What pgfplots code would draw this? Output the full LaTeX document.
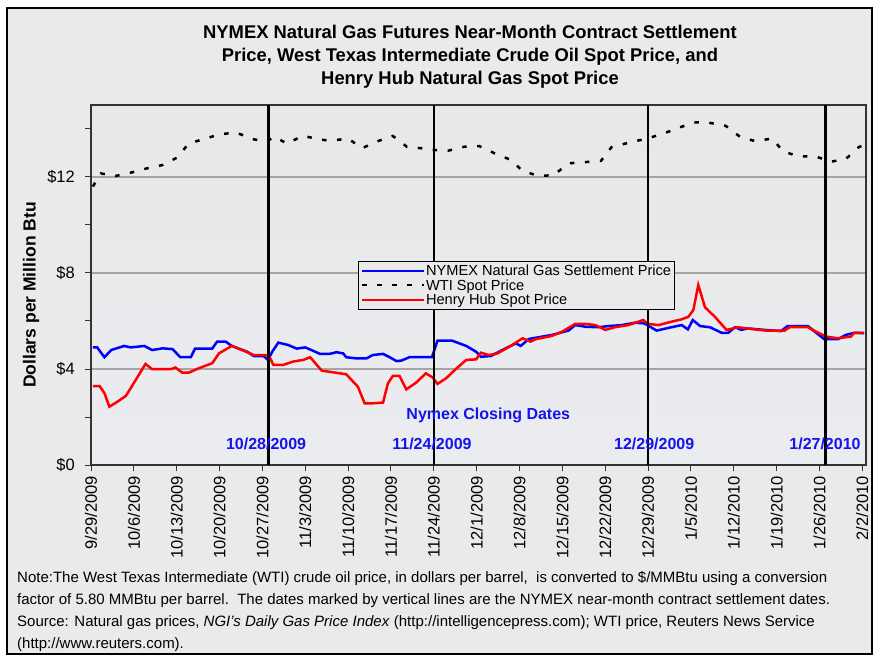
\documentclass[border=0pt]{standalone}
\usepackage{pgfplots}
\pgfplotsset{compat=1.18}
\usepackage{fontspec}
\setmainfont{Liberation Sans}
\definecolor{bgc}{RGB}{234,234,234}
\definecolor{plottop}{RGB}{232,232,232}
\definecolor{plotmid}{RGB}{211,221,232}
\definecolor{plotbot}{RGB}{234,236,240}
\definecolor{gridc}{RGB}{165,165,165}
\definecolor{nblue}{RGB}{0,0,255}
\definecolor{hred}{RGB}{255,0,0}
\definecolor{lblue}{RGB}{20,20,235}
\begin{document}
\begin{tikzpicture}[x=1pt,y=1pt]
\useasboundingbox (0,0) rectangle (874,656);
\draw[fill=bgc, line width=1.5pt] (7,2) rectangle (872,648);
\node[font=\fontsize{18.4}{23}\selectfont\bfseries, align=center] at (470,599)
  {NYMEX Natural Gas Futures Near-Month Contract Settlement\\
   Price, West Texas Intermediate Crude Oil Spot Price, and\\
   Henry Hub Natural Gas Spot Price};
\begin{axis}[
  at={(91pt,191pt)}, anchor=south west,
  scale only axis, width=775pt, height=360pt,
  xmin=0, xmax=126.6, ymin=0, ymax=15,
  axis background/.style={top color=plottop, middle color=plotmid, bottom color=plotbot},
  xtick={0,7,...,126},
  xticklabels={9/29/2009,10/6/2009,10/13/2009,10/20/2009,10/27/2009,11/3/2009,11/10/2009,11/17/2009,11/24/2009,12/1/2009,12/8/2009,12/15/2009,12/22/2009,12/29/2009,1/5/2010,1/12/2010,1/19/2010,1/26/2010,2/2/2010},
  x tick label style={rotate=90, anchor=east, font=\fontsize{16.5}{18}\selectfont, inner sep=5pt},
  ytick={0,4,8,12}, yticklabels={\$0,\$4,\$8,\$12},
  minor ytick={2,6,10,14},
  y tick label style={font=\fontsize{16.5}{18}\selectfont, inner sep=2pt, xshift=-8pt},
  tick align=outside, major tick length=6pt, minor tick length=6pt,
  xtick pos=bottom, ytick pos=left,
  tick style={black!80, line width=1pt},
  ymajorgrids, grid style={gridc, line width=1.3pt},
  axis line style={black!80, line width=1.3pt},
  legend style={at={(0.345,0.566)}, anchor=north west, draw=black, line width=0.8pt,
    fill=bgc, font=\fontsize{14.6}{15}\selectfont, inner sep=2.5pt, row sep=0.8pt,
    nodes={inner sep=0.8pt}},
  legend cell align=left,
  legend image code/.code={\draw[#1, line width=2pt] (0pt,0pt) -- (62pt,0pt);},
]
\addplot[nblue, line width=2.5pt] coordinates {
(0.3,4.90) (1.0,4.90) (2.2,4.49) (3.3,4.79) (5.4,4.96) (6.5,4.90) (8.7,4.96) (10.0,4.79) (11.7,4.86) (13.3,4.83) (14.6,4.49) (16.3,4.49) (17.0,4.85) (19.8,4.85) (20.6,5.14) (22.0,5.14) (23.0,4.96) (25.5,4.72) (26.6,4.54) (28.2,4.54) (28.9,4.38) (29.7,4.76) (30.6,5.10) (32.2,5.00) (33.6,4.85) (35.0,4.90) (36.0,4.79) (37.4,4.63) (39.0,4.63) (40.1,4.70) (41.2,4.65) (41.7,4.49) (43.4,4.44) (45.0,4.44) (46.0,4.58) (47.7,4.63) (48.8,4.49) (49.9,4.33) (50.7,4.35) (52.0,4.49) (55.7,4.49) (56.6,5.18) (59.0,5.18) (61.3,4.96) (62.9,4.72) (63.7,4.51) (65.3,4.54) (67.2,4.79) (69.4,5.07) (70.2,4.96) (71.5,5.25) (75.3,5.42) (78.0,5.60) (79.1,5.83) (80.8,5.76) (82.9,5.74) (84.6,5.79) (86.7,5.83) (88.9,5.93) (90.4,5.90) (92.4,5.60) (94.8,5.74) (96.5,5.83) (97.5,5.65) (98.3,6.04) (99.5,5.79) (101.1,5.74) (103.0,5.51) (104.1,5.51) (105.2,5.74) (106.2,5.63) (107.3,5.69) (110.0,5.63) (112.7,5.58) (113.8,5.79) (117.1,5.79) (118.7,5.46) (119.8,5.24) (122.0,5.24) (123.3,5.42) (124.7,5.51) (126.3,5.49)
};
\addlegendentry{NYMEX Natural Gas Settlement Price}
\addplot[black, line width=2.5pt, dash pattern=on 4.5pt off 10.5pt] coordinates {
(0.3,11.6) (1.6,12.15) (4.0,12.04) (6.8,12.2) (9.0,12.35) (11.7,12.5) (14.0,12.8) (16.0,13.4) (18.7,13.6) (21.0,13.78) (23.7,13.85) (26.6,13.57) (28.6,13.47) (30.0,13.68) (32.0,13.39) (34.6,13.72) (37.0,13.58) (39.0,13.51) (42.0,13.6) (44.3,13.2) (46.6,13.47) (49.3,13.71) (51.6,13.26) (54.2,13.19) (56.0,13.12) (58.4,13.1) (61.0,13.26) (63.4,13.29) (65.9,12.99) (68.6,12.71) (70.5,12.25) (73.2,12.04) (75.6,12.08) (78.0,12.57) (80.7,12.62) (83.3,12.67) (85.0,13.24) (88.0,13.44) (90.8,13.6) (93.4,13.8) (95.8,14.03) (98.5,14.28) (101.0,14.26) (103.7,14.13) (106.0,13.68) (108.4,13.5) (111.3,13.6) (113.0,13.08) (115.5,12.86) (118.4,12.85) (120.9,12.64) (123.3,12.75) (125.5,13.26) (126.3,13.3)
};
\addlegendentry{WTI Spot Price}
\addplot[hred, line width=2.5pt] coordinates {
(0.3,3.29) (1.4,3.29) (2.2,2.99) (3.0,2.43) (4.1,2.60) (5.7,2.88) (7.3,3.54) (8.9,4.21) (10.0,3.99) (13.0,3.99) (13.8,4.06) (14.9,3.85) (16.0,3.85) (17.6,4.03) (19.8,4.24) (20.9,4.65) (23.0,4.96) (24.7,4.79) (26.6,4.58) (29.0,4.58) (29.8,4.17) (31.4,4.17) (33.0,4.31) (34.7,4.38) (35.8,4.49) (37.7,3.93) (39.6,3.86) (41.7,3.78) (43.6,3.26) (44.7,2.57) (46.0,2.57) (47.7,2.60) (48.5,3.40) (49.3,3.71) (50.4,3.71) (51.5,3.15) (53.1,3.43) (54.7,3.82) (55.8,3.65) (56.6,3.38) (58.0,3.61) (59.6,4.00) (61.3,4.38) (62.9,4.40) (63.7,4.68) (65.0,4.58) (66.4,4.65) (68.8,5.00) (70.5,5.28) (71.8,5.14) (72.6,5.24) (75.3,5.38) (77.0,5.56) (79.1,5.88) (80.8,5.88) (82.4,5.83) (84.0,5.63) (85.6,5.74) (87.8,5.83) (90.2,6.04) (91.0,5.88) (92.7,5.83) (94.8,5.97) (96.5,6.07) (97.6,6.18) (98.4,6.46) (99.2,7.50) (100.3,6.57) (101.9,6.18) (103.8,5.63) (105.7,5.74) (108.4,5.65) (110.3,5.60) (113.3,5.60) (114.1,5.74) (117.1,5.74) (118.4,5.56) (120.1,5.35) (122.0,5.28) (124.1,5.35) (124.7,5.51) (126.3,5.51)
};
\addlegendentry{Henry Hub Spot Price}
\addplot[black, line width=2.5pt, forget plot] coordinates {(29,0) (29,15)};
\addplot[black, line width=2.5pt, forget plot] coordinates {(56,0) (56,15)};
\addplot[black, line width=2.5pt, forget plot] coordinates {(91,0) (91,15)};
\addplot[black, line width=2.5pt, forget plot] coordinates {(120,0) (120,15)};
\node[lblue, font=\fontsize{16}{18}\selectfont\bfseries] at (axis cs:64.9,2.08) {Nymex Closing Dates};
\node[lblue, font=\fontsize{16}{18}\selectfont\bfseries] at (axis cs:28.6,0.875) {10/28/2009};
\node[lblue, font=\fontsize{16}{18}\selectfont\bfseries] at (axis cs:55.7,0.875) {11/24/2009};
\node[lblue, font=\fontsize{16}{18}\selectfont\bfseries] at (axis cs:92.0,0.875) {12/29/2009};
\node[lblue, font=\fontsize{16}{18}\selectfont\bfseries] at (axis cs:119.9,0.875) {1/27/2010};
\end{axis}
\node[rotate=90, font=\fontsize{17.5}{19}\selectfont\bfseries] at (31,361) {Dollars per Million Btu};
\node[anchor=north west, align=left, font=\fontsize{15}{22}\selectfont, inner sep=0pt] at (17,85)
  {Note:The West Texas Intermediate (WTI) crude oil price, in dollars per barrel,\ \ is converted to \$/MMBtu using a conversion\\
   factor of 5.80 MMBtu per barrel.\ \ The dates marked by vertical lines are the NYMEX near-month contract settlement dates.\\
   Source: Natural gas prices, \textit{NGI's Daily Gas Price Index} (http://intelligencepress.com); WTI price, Reuters News Service\\
   (http://www.reuters.com).};
\end{tikzpicture}
\end{document}
